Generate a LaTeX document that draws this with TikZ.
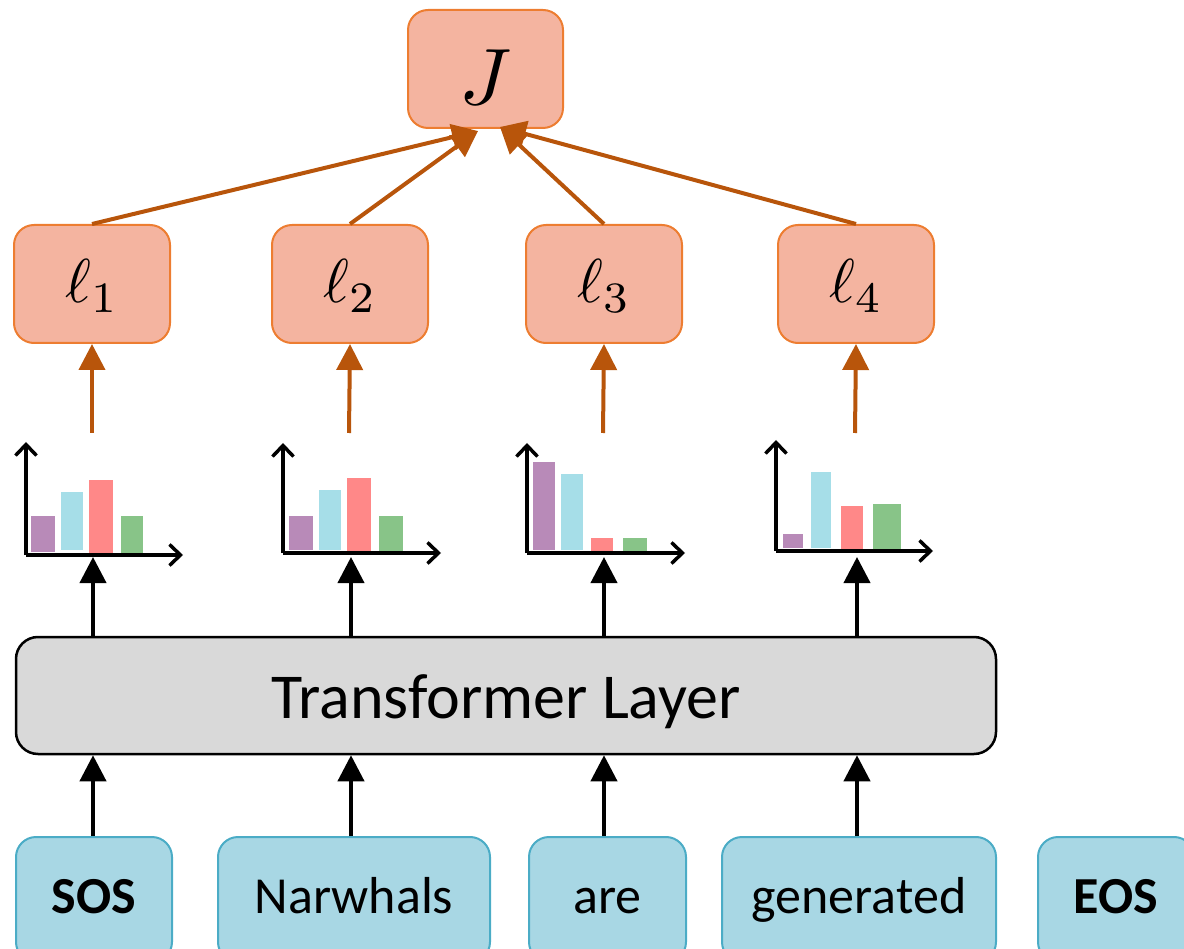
\documentclass[tikz,border=0pt]{standalone}
\usepackage{graphicx}
\usepackage{fontspec}
\setmainfont{Carlito}
\usetikzlibrary{arrows.meta}

\definecolor{lossfill}{HTML}{F4B4A0}
\definecolor{lossline}{HTML}{ED7D31}
\definecolor{gradarrow}{HTML}{B8550B}
\definecolor{tokfill}{HTML}{A8D7E4}
\definecolor{tokline}{HTML}{4BACC6}
\definecolor{layerfill}{HTML}{D9D9D9}
\definecolor{barpurple}{HTML}{B88AB8}
\definecolor{barcyan}{HTML}{A6DEE8}
\definecolor{barred}{HTML}{FF8888}
\definecolor{bargreen}{HTML}{88C488}

\tikzset{
  lossbox/.style={draw=lossline, line width=2pt, fill=lossfill, rounded corners=20pt,
    minimum width=156pt, minimum height=118pt, inner sep=0pt},
  tokbox/.style={draw=tokline, line width=2pt, fill=tokfill, rounded corners=20pt,
    minimum height=125pt, inner sep=0pt, text height=37pt, text depth=9pt,
    font=\fontsize{52}{60}\selectfont},
  layerbox/.style={draw=black, line width=2.5pt, fill=layerfill, rounded corners=22pt,
    minimum width=980pt, minimum height=117pt, inner sep=0pt, text height=52.5pt, text depth=7.5pt,
    font=\fontsize{64}{72}\selectfont},
  uparrow/.style={line width=4pt, -{Triangle[width=26pt,length=26pt]}},
  lossarrow/.style={uparrow, draw=gradarrow},
  feedarrow/.style={uparrow, draw=black},
  axis/.style={line width=3.5pt, -{Straight Barb[width=21pt,length=11pt,line width=3.5pt]}},
}
\newcommand{\losslabel}[1]{\scalebox{6.2}{$\ell_{#1}$}}

\begin{document}
\begin{tikzpicture}[x=1pt, y=-1pt]
\useasboundingbox (0,0) rectangle (1184,949);
\clip (0,0) rectangle (1184,949);

% column positions of the four predicted tokens
\coordinate (c1) at (93,0);
\coordinate (c2) at (351,0);
\coordinate (c3) at (604,0);
\coordinate (c4) at (857,0);

% total objective and per-token losses
\node[lossbox, minimum width=155pt] (J) at (485.5,69) {};
\node at ([yshift=-8pt]J.center) {\scalebox{8}{$J$}};
\node[lossbox] (l1) at (92,284) {};
\node[lossbox] (l2) at (350,284) {};
\node[lossbox] (l3) at (604,284) {};
\node[lossbox] (l4) at (856,284) {};
\node at ([yshift=-2pt]l1.center) {\losslabel{1}};
\node at ([yshift=-2pt]l2.center) {\losslabel{2}};
\node at ([yshift=-2pt]l3.center) {\losslabel{3}};
\node at ([yshift=-2pt]l4.center) {\losslabel{4}};

% transformer block
\node[layerbox] (tl) at (506,695.5) {Transformer Layer};

% input tokens
\node[tokbox, minimum width=156pt] (sos) at (94,899.5) {\bfseries SOS};
\node[tokbox, minimum width=272pt] (narw) at (354,899.5) {Narwhals};
\node[tokbox, minimum width=157pt] (are) at (607.5,899.5) {are};
\node[tokbox, minimum width=274pt] (gen) at (859,899.5) {generated};
\node[tokbox, minimum width=156pt] (eos) at (1116,899.5) {\bfseries EOS};

% output distributions (bar charts)
% chart 1
\fill[barpurple] (31,516) rectangle (55,552);
\fill[barcyan]   (61,492) rectangle (83,550);
\fill[barred]    (89,480) rectangle (113,555);
\fill[bargreen]  (121,516) rectangle (143,555);
\draw[axis] (26,555) -- (26,442);
\draw[axis] (26,555) -- (183,555);
% chart 2
\fill[barpurple] (289,516) rectangle (313,550);
\fill[barcyan]   (319,490) rectangle (341,550);
\fill[barred]    (347,478) rectangle (371,553);
\fill[bargreen]  (379,516) rectangle (403,553);
\draw[axis] (283,553) -- (283,443);
\draw[axis] (283,553) -- (441,553);
% chart 3
\fill[barpurple] (533,462) rectangle (555,550);
\fill[barcyan]   (561,474) rectangle (583,550);
\fill[barred]    (591,538) rectangle (613,553);
\fill[bargreen]  (623,538) rectangle (647,553);
\draw[axis] (527,553) -- (527,443);
\draw[axis] (527,553) -- (685,553);
% chart 4
\fill[barpurple] (783,534) rectangle (803,548);
\fill[barcyan]   (811,472) rectangle (831,548);
\fill[barred]    (841,506) rectangle (863,551);
\fill[bargreen]  (873,504) rectangle (901,551);
\draw[axis] (776,551) -- (776,440);
\draw[axis] (776,551) -- (933,551);

% anchor points above and below each chart
\coordinate (h1top) at (92,433);  \coordinate (h1bot) at (93,557);
\coordinate (h2top) at (349,433); \coordinate (h2bot) at (351,557);
\coordinate (h3top) at (603,433); \coordinate (h3bot) at (604,557);
\coordinate (h4top) at (855,433); \coordinate (h4bot) at (857,557);
\coordinate (jin1) at (478,131);
\coordinate (jin2) at (500,127);

% tokens into the transformer
\draw[feedarrow] (sos.north -| c1) -- (tl.south -| c1);
\draw[feedarrow] (narw.north -| c2) -- (tl.south -| c2);
\draw[feedarrow] (are.north -| c3) -- (tl.south -| c3);
\draw[feedarrow] (gen.north -| c4) -- (tl.south -| c4);

% transformer outputs into the distributions
\draw[feedarrow] (tl.north -| c1) -- (h1bot);
\draw[feedarrow] (tl.north -| c2) -- (h2bot);
\draw[feedarrow] (tl.north -| c3) -- (h3bot);
\draw[feedarrow] (tl.north -| c4) -- (h4bot);

% distributions into the losses
\draw[lossarrow] (h1top) -- (l1.south);
\draw[lossarrow] (h2top) -- (l2.south);
\draw[lossarrow] (h3top) -- (l3.south);
\draw[lossarrow] (h4top) -- (l4.south);

% losses summed into the objective
\draw[lossarrow] (l1.north) -- (jin1);
\draw[lossarrow] (l2.north) -- (jin1);
\draw[lossarrow] (l3.north) -- (jin2);
\draw[lossarrow] (l4.north) -- (jin2);
\end{tikzpicture}
\end{document}
